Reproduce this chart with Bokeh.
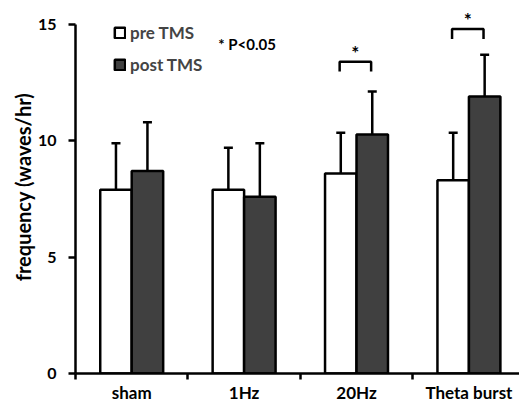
from bokeh.plotting import figure
from bokeh.models import ColumnDataSource, FixedTicker, Whisker, TeeHead, Legend, LegendItem, Range1d
from bokeh.core.properties import value
from bokeh.embed import file_html
from bokeh.resources import INLINE

categories = ["sham", "1Hz", "20Hz", "Theta burst"]
pre_mean = [7.9, 7.9, 8.6, 8.3]
pre_err = [2.0, 1.8, 1.75, 2.05]
post_mean = [8.7, 7.6, 10.27, 11.9]
post_err = [2.1, 2.3, 1.85, 1.8]
sig_categories = ["20Hz", "Theta burst"]
sig_bracket_level = [13.4, 14.8]
y_ticks = [0, 5, 10, 15]

FONT = "Lato"
centers = [i + 0.5 for i in range(len(categories))]
off = 0.14
bw = 0.28

pre_src = ColumnDataSource(dict(
    x=[c - off for c in centers], top=pre_mean,
    upper=[m + e for m, e in zip(pre_mean, pre_err)]))
post_src = ColumnDataSource(dict(
    x=[c + off for c in centers], top=post_mean,
    upper=[m + e for m, e in zip(post_mean, post_err)]))

p = figure(width=519, height=405, output_backend="svg", toolbar_location=None,
           x_range=Range1d(0, 3.95), y_range=Range1d(0, 16.03),
           min_border_left=75, min_border_right=0, min_border_top=0, min_border_bottom=32)
p.outline_line_color = None
p.grid.visible = False
p.background_fill_color = "white"

r_pre = p.vbar(x="x", top="top", width=bw, source=pre_src, fill_color="white",
               line_color="black", line_width=2.5)
r_post = p.vbar(x="x", top="top", width=bw, source=post_src, fill_color="#404040",
                line_color="black", line_width=2.5)

for src in (pre_src, post_src):
    w = Whisker(base="x", lower="top", upper="upper", source=src, dimension="height",
                line_color="black", line_width=2.5,
                upper_head=TeeHead(size=9, line_width=2.5, line_color="black"),
                lower_head=None)
    p.add_layout(w)

# significance brackets
bx, by = [], []
sx, sy = [], []
for cat, lvl in zip(sig_categories, sig_bracket_level):
    c = centers[categories.index(cat)]
    x0, x1 = c - off - 0.01, c + off - 0.01
    bx.append([x0, x0, x1, x1])
    by.append([lvl - 0.42, lvl, lvl, lvl - 0.42])
    sx.append((x0 + x1) / 2)
    sy.append(lvl + 0.4)
p.multi_line(xs=bx, ys=by, line_color="black", line_width=2.5)
p.text(x=sx, y=sy, text=["*"] * len(sx), text_align="center", text_baseline="middle",
       text_font=value(FONT), text_font_size="19px", text_font_style="bold", text_color="black")

p.text(x=[1.27], y=[14.18], text=["* P<0.05"], text_align="left", text_baseline="middle",
       text_font=value(FONT), text_font_size="15px", text_font_style="bold", text_color="black")

legend = Legend(items=[LegendItem(label="pre TMS", renderers=[r_pre]),
                       LegendItem(label="post TMS", renderers=[r_post])],
                location=(38, 298), orientation="vertical",
                glyph_width=13, glyph_height=13, label_height=20, spacing=11,
                padding=0, margin=0, border_line_color=None, background_fill_alpha=0,
                label_text_font=FONT, label_text_font_size="17px",
                label_text_font_style="bold", label_standoff=4)
p.add_layout(legend)

# axes
xa = p.xaxis[0]
xa.ticker = FixedTicker(ticks=centers, minor_ticks=[0, 1, 2, 3])
xa.major_label_overrides = {c: n for c, n in zip(centers, categories)}
xa.major_tick_out = 0
xa.major_tick_in = 0
xa.minor_tick_out = 6
xa.minor_tick_in = 0
xa.minor_tick_line_width = 2.5
xa.minor_tick_line_color = "black"
xa.axis_line_width = 2.5
xa.axis_line_color = "black"
xa.major_label_text_font = FONT
xa.major_label_text_font_size = "17px"
xa.major_label_text_font_style = "bold"
xa.major_label_text_color = "black"
xa.major_label_standoff = 2

ya = p.yaxis[0]
ya.ticker = FixedTicker(ticks=y_ticks)
ya.bounds = (0, 15)
ya.axis_line_width = 2.5
ya.axis_line_color = "black"
ya.major_tick_out = 7
ya.major_tick_in = 0
ya.major_tick_line_width = 2.5
ya.minor_tick_out = 0
ya.minor_tick_in = 0
ya.major_label_text_font = FONT
ya.major_label_text_font_size = "16px"
ya.major_label_text_font_style = "bold"
ya.major_label_text_color = "black"
ya.major_label_standoff = 12
ya.axis_label = "frequency (waves/hr)"
ya.axis_label_text_font = FONT
ya.axis_label_text_font_size = "20px"
ya.axis_label_text_font_style = "bold"
ya.axis_label_text_color = "black"
ya.axis_label_standoff = 0

open("out.html", "w").write(file_html(p, INLINE))
